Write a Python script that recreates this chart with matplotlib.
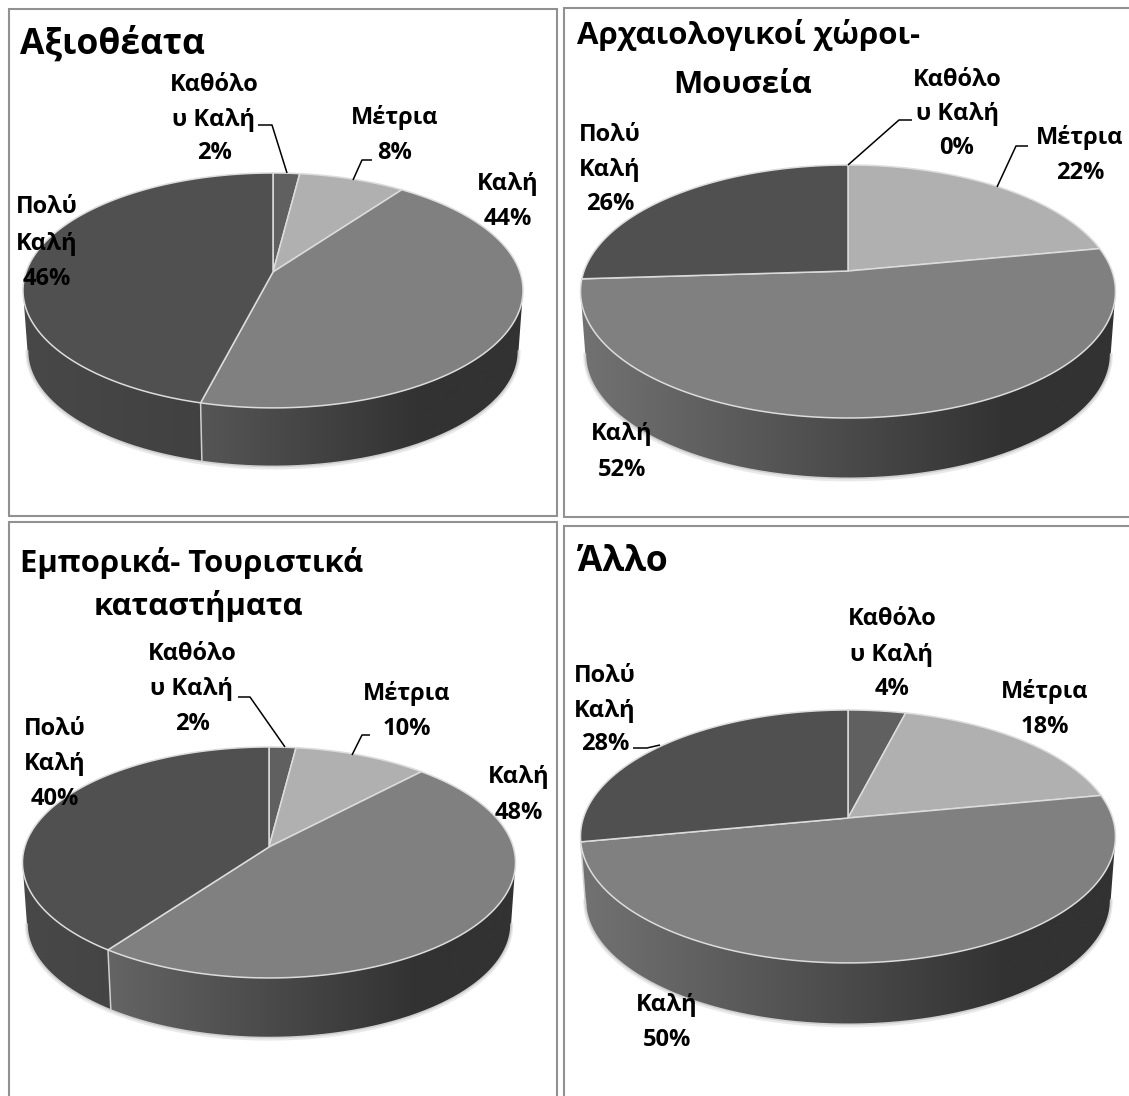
import numpy as np
import matplotlib
matplotlib.use("Agg")
import matplotlib.pyplot as plt
from matplotlib.colors import LinearSegmentedColormap
from matplotlib.patches import Polygon, Rectangle

# Survey shares per panel, clockwise from twelve o'clock
CATEGORIES = ["Καθόλου Καλή", "Μέτρια", "Καλή", "Πολύ Καλή"]
CATEGORY_LINES = [["Καθόλο", "υ Καλή"], ["Μέτρια"], ["Καλή"], ["Πολύ", "Καλή"]]
ATTRACTIONS = [2, 8, 44, 46]
MUSEUMS = [0, 22, 52, 26]
SHOPS = [2, 10, 48, 40]
OTHER = [4, 18, 50, 28]

TOP_COLORS = ["#606060", "#b0b0b0", "#808080", "#505050"]
SIDE_RAMPS = [("#4a4a4a", "#333333"), ("#777777", "#555555"),
              ("#727272", "#323232"), ("#484848", "#383838")]

FONT = ["Open Sans", "DejaVu Sans"]
W, H = 1129, 1096
RIM_SHRINK = 0.982

fig = plt.figure(figsize=(W / 100, H / 100), dpi=100, facecolor="white")
ax = fig.add_axes([0, 0, 1, 1])


def project(theta, g, drop=0.0, shrink=1.0):
    """Perspective projection of a disc point (theta clockwise from the far side)."""
    k = g["tilt"]
    u, v = np.sin(theta), np.cos(theta)
    w = 1 + k * v
    a = (g["right"] - g["left"]) / 2 * np.sqrt(1 - k ** 2)
    b = g["top_gap"] * (1 + k)
    return g["cx"] + shrink * a * u / w, g["cy"] + drop - shrink * b * v / w


def draw_pie(values, g):
    edges = np.cumsum([0] + values) / sum(values) * 2 * np.pi
    drop = g["depth"]
    front_start = np.pi / 2 + np.arcsin(g["tilt"])
    front_end = 3 * np.pi / 2 - np.arcsin(g["tilt"])

    # Extruded rim: one gradient-filled band per slice, front-facing part only
    for i, val in enumerate(values):
        lo, hi = max(edges[i], front_start), min(edges[i + 1], front_end)
        if val == 0 or hi <= lo:
            continue
        th = np.linspace(lo, hi, 200)
        x0, y0 = project(th, g)
        x1, y1 = project(th, g, drop, RIM_SHRINK)
        band = Polygon(np.r_[np.c_[x0, y0], np.c_[x1, y1][::-1]], closed=True,
                       transform=ax.transData, fc="none", ec="none")
        ax.add_patch(band)
        cmap = LinearSegmentedColormap.from_list("rim", SIDE_RAMPS[i])
        ramp = np.clip(np.linspace(0, 1, 256) / 0.8, 0, 1)[None, :]
        im = ax.imshow(ramp, cmap=cmap, vmin=0, vmax=1, aspect="auto", zorder=2,
                       extent=(g["left"], g["right"], g["cy"] + 260, g["cy"] - 120))
        im.set_clip_path(band)

    # Pale lip along the lower rim
    th = np.linspace(front_start, front_end, 300)
    xb, yb = project(th, g, drop, RIM_SHRINK)
    ax.plot(xb, yb + 1, color="#b8b8b8", lw=3, alpha=0.3, zorder=1.5)
    ax.plot(xb, yb, color="#cfcfcf", lw=1.2, zorder=3)

    # Slice seams running down the rim
    for e in edges[:-1]:
        if front_start < e < front_end:
            xa, ya = project(e, g)
            xc, yc = project(e, g, drop, RIM_SHRINK)
            ax.plot([xa, xc], [ya, yc], color="#cfcfcf", lw=1.1, zorder=3)

    # Top face
    for i, val in enumerate(values):
        if val == 0:
            continue
        th = np.linspace(edges[i], edges[i + 1], 200)
        x, y = project(th, g)
        pts = np.r_[[[g["cx"], g["cy"]]], np.c_[x, y]]
        ax.add_patch(Polygon(pts, closed=True, fc=TOP_COLORS[i], ec="#dcdcdc",
                             lw=1.1, zorder=4, joinstyle="round"))


def draw_label(cat, values, center_x, line_ys):
    lines = CATEGORY_LINES[cat] + [f"{values[cat]}%"]
    for text, y in zip(lines, line_ys):
        ax.text(center_x, y + 2, text, ha="center", va="center", fontsize=17,
                fontweight="bold", family=FONT, color="black", zorder=6)


PANELS = [
    dict(values=ATTRACTIONS,
         frame=(9, 9, 557, 516),
         geom=dict(cx=273, cy=272, left=23, right=523, top_gap=99, tilt=0.157, depth=61),
         titles=[("Αξιοθέατα", 20, 43, "left", 25.5)],
         labels=[(0, 214, (83, 118, 151)), (1, 395, (116, 151)),
                 (2, 508, (182, 217)), (3, 47, (205, 242, 277))],
         leaders=[((258, 125), (272, 125), (287, 173)),
                  ((372, 160), (362, 160), (353, 180))]),
    dict(values=MUSEUMS,
         frame=(564, 8, 1135, 517),
         geom=dict(cx=848, cy=271, left=581, right=1116, top_gap=106, tilt=0.162, depth=63),
         titles=[("Αρχαιολογικοί χώροι-", 577, 33, "left", 22.4),
                 ("Μουσεία", 743, 83, "center", 22.4)],
         labels=[(0, 957, (78, 112, 146)), (1, 1080, (135, 171)),
                 (2, 622, (432, 468)), (3, 610, (133, 168, 202))],
         leaders=[((912, 120), (899, 120), (848, 165)),
                  ((1028, 146), (1016, 146), (997, 187))]),
    dict(values=SHOPS,
         frame=(9, 522, 557, 1102),
         geom=dict(cx=269, cy=847, left=23, right=516, top_gap=100, tilt=0.134, depth=62),
         titles=[("Εμπορικά- Τουριστικά", 20, 561, "left", 22.3),
                 ("καταστήματα", 198, 604, "center", 22.3)],
         labels=[(0, 192, (652, 687, 722)), (1, 407, (692, 727)),
                 (2, 519, (775, 811)), (3, 55, (727, 762, 797))],
         leaders=[((238, 697), (250, 697), (285, 747)),
                  ((370, 735), (362, 735), (352, 755))]),
    dict(values=OTHER,
         frame=(564, 526, 1135, 1102),
         geom=dict(cx=848, cy=818, left=581, right=1116, top_gap=108, tilt=0.146, depth=64),
         titles=[("Άλλο", 578, 560, "left", 25.5)],
         labels=[(0, 892, (617, 653, 687)), (1, 1045, (689, 725)),
                 (2, 667, (1003, 1038)), (3, 605, (674, 709, 742))],
         leaders=[((633, 748), (647, 748), (660, 745))]),
]

for panel in PANELS:
    x0, y0, x1, y1 = panel["frame"]
    ax.add_patch(Rectangle((x0, y0), x1 - x0, y1 - y0, fc="white", ec="#919191",
                           lw=1.5, zorder=0))
    draw_pie(panel["values"], panel["geom"])
    for text, x, y, ha, size in panel["titles"]:
        ax.text(x, y + 2, text, ha=ha, va="center", fontsize=size, fontweight="bold",
                family=FONT, color="black", zorder=6)
    for cat, cx, ys in panel["labels"]:
        draw_label(cat, panel["values"], cx, ys)
    for path in panel["leaders"]:
        xs, ys = zip(*path)
        ax.plot(xs, ys, color="black", lw=1.1, zorder=5, solid_capstyle="butt")

ax.set_xlim(0, W)
ax.set_ylim(H, 0)
ax.axis("off")
fig.savefig("out.png", dpi=100, facecolor="white")
